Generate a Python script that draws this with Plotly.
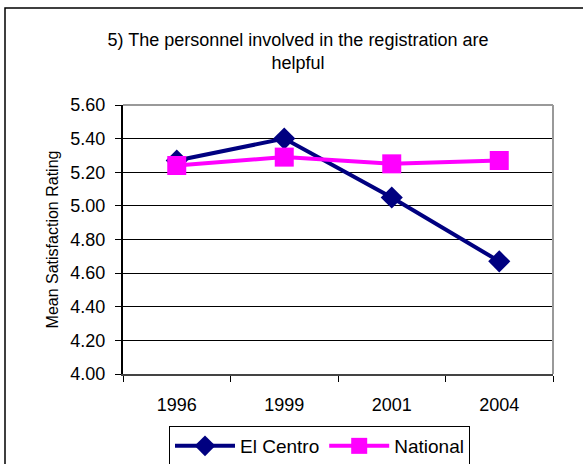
import plotly.graph_objects as go

years = ["1996", "1999", "2001", "2004"]
el_centro = [5.27, 5.40, 5.05, 4.67]
national = [5.24, 5.29, 5.25, 5.27]

FONT = "Liberation Sans, Arial, sans-serif"

fig = go.Figure()
fig.add_trace(go.Scatter(
    x=years, y=el_centro, name="El Centro", mode="lines+markers",
    line=dict(color="#000080", width=4),
    marker=dict(symbol="diamond", size=17, color="#000080"),
))
fig.add_trace(go.Scatter(
    x=years, y=national, name="National", mode="lines+markers",
    line=dict(color="#FF00FF", width=4),
    marker=dict(symbol="square", size=19, color="#FF00FF"),
))

W, H = 583, 464
L, R, T, B = 123, 30, 105, 90
pw, ph = W - L - R, H - T - B

def px(x):
    return (x - L) / pw

def py(y):
    return (H - B - y) / ph

fig.update_layout(
    width=W, height=H,
    margin=dict(l=L, r=R, t=T, b=B, autoexpand=False),
    paper_bgcolor="white", plot_bgcolor="white",
    font=dict(family=FONT, size=17, color="black"),
    title=dict(
        text="5) The personnel involved in the registration are<br>helpful",
        xref="container", yref="container",
        x=298 / W, xanchor="center", y=1 - 46 / H, yanchor="middle",
        font=dict(size=18, family=FONT),
    ),
    showlegend=True,
    legend=dict(
        orientation="h", x=px(169), y=py(426), xanchor="left", yanchor="top",
        bordercolor="black", borderwidth=1, bgcolor="white",
        font=dict(size=19, family=FONT),
        tracegroupgap=0, itemwidth=60,
    ),
    xaxis=dict(
        type="category", range=[-0.5, 3.5],
        showline=True, linecolor="#444444", linewidth=2, mirror=False,
        ticks="outside", tickson="boundaries", ticklen=6, tickcolor="black",
        showgrid=False, tickfont=dict(size=18, family=FONT),
        ticklabelstandoff=13,
    ),
    yaxis=dict(
        range=[4.0, 5.6], dtick=0.2, tick0=4.0, tickformat=".2f",
        showline=True, linecolor="black", linewidth=2,
        ticks="outside", ticklen=6, tickcolor="black",
        showgrid=True, gridcolor="black", gridwidth=1,
        zeroline=False, tickfont=dict(size=18, family=FONT),
        ticklabelstandoff=6,
        title=dict(text="Mean Satisfaction Rating", font=dict(size=16, family=FONT), standoff=8),
    ),
)

# plot-area right/top gray border
fig.add_shape(type="line", xref="paper", yref="paper", x0=0, x1=1, y0=1, y1=1,
              line=dict(color="#999999", width=2))
fig.add_shape(type="line", xref="paper", yref="paper", x0=1, x1=1, y0=0, y1=1,
              line=dict(color="#999999", width=2))
# outer chart border (extends beyond the visible canvas on right/bottom)
fig.add_shape(type="rect", xref="paper", yref="paper",
              x0=px(5), x1=px(600), y0=py(480), y1=py(8),
              line=dict(color="black", width=1.5), layer="below")

fig.write_html(
    "out.html",
    config={"displayModeBar": False},
    post_script="document.body.style.margin='0';document.body.style.overflow='hidden';",
)
